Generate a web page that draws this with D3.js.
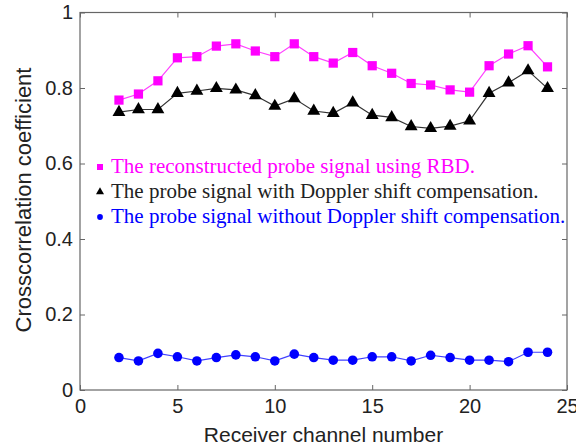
<html>
<head>
<script src="https://d3js.org/d3.v7.min.js"></script>
<style>
    html, body { margin: 0; padding: 0; background: #fff; }
</style>
</head>
<body>
<script>
    // receiver channels and the three curves
    var channels = [2, 3, 4, 5, 6, 7, 8, 9, 10, 11, 12, 13, 14, 15, 16, 17, 18, 19, 20, 21, 22, 23, 24];
    var rbd = [0.768, 0.784, 0.819, 0.880, 0.883, 0.911, 0.917, 0.898, 0.883, 0.917, 0.883, 0.866,
               0.894, 0.859, 0.839, 0.812, 0.808, 0.795, 0.789, 0.859, 0.890, 0.912, 0.856];
    var withComp = [0.736, 0.743, 0.743, 0.786, 0.792, 0.799, 0.795, 0.780, 0.752, 0.772, 0.739, 0.733,
                    0.761, 0.728, 0.722, 0.698, 0.693, 0.699, 0.713, 0.786, 0.814, 0.846, 0.799];
    var withoutComp = [0.086, 0.077, 0.097, 0.088, 0.077, 0.086, 0.093, 0.088, 0.077, 0.095, 0.086, 0.079,
                       0.079, 0.088, 0.088, 0.077, 0.092, 0.086, 0.079, 0.079, 0.075, 0.100, 0.100];
    var xTicks = [0, 5, 10, 15, 20, 25];
    var yTicks = [0, 0.2, 0.4, 0.6, 0.8, 1];
    var legendLabels = ["The reconstructed probe signal using RBD.",
                        "The probe signal with Doppler shift compensation.",
                        "The probe signal without Doppler shift compensation."];

    var width = 576, height = 448;
    var plotL = 80, plotR = 567, plotT = 12.5, plotB = 390;

    var svg = d3.select("body").append("svg")
        .attr("width", width)
        .attr("height", height);

    var x = d3.scaleLinear().domain([0, 25]).range([plotL, plotR]);
    var y = d3.scaleLinear().domain([0, 1]).range([plotB, plotT]);

    // box
    svg.append("rect")
        .attr("x", plotL).attr("y", plotT)
        .attr("width", plotR - plotL).attr("height", plotB - plotT)
        .attr("fill", "none").attr("stroke", "#666").attr("stroke-width", 1.2);

    var fmt = function (d) { return d === 0 || d === 1 ? d : d3.format(".1f")(d); };

    var xAxis = svg.append("g").attr("transform", "translate(0," + plotB + ")")
        .call(d3.axisBottom(x).tickValues(xTicks).tickSize(-5).tickFormat(d3.format("d")));
    var xTop = svg.append("g").attr("transform", "translate(0," + plotT + ")")
        .call(d3.axisTop(x).tickValues(xTicks).tickSize(-5).tickFormat(""));
    var yAxis = svg.append("g").attr("transform", "translate(" + plotL + ",0)")
        .call(d3.axisLeft(y).tickValues(yTicks).tickSize(-5).tickFormat(fmt));
    var yRight = svg.append("g").attr("transform", "translate(" + plotR + ",0)")
        .call(d3.axisRight(y).tickValues(yTicks).tickSize(-5).tickFormat(""));

    [xAxis, xTop, yAxis, yRight].forEach(function (g) {
        g.select(".domain").remove();
        g.selectAll(".tick line").attr("stroke", "#666");
        g.selectAll("text").attr("font-size", 20).attr("fill", "#222")
            .attr("font-family", "'Liberation Sans', Arial, sans-serif");
    });
    xAxis.selectAll(".tick text").attr("y", 9).attr("dy", "0.71em");
    yAxis.selectAll(".tick text").attr("x", -7);

    svg.append("text")
        .attr("x", (plotL + plotR) / 2).attr("y", 442)
        .attr("text-anchor", "middle").attr("font-size", 21).attr("fill", "#222")
        .attr("font-family", "'Liberation Sans', Arial, sans-serif")
        .text("Receiver channel number");

    svg.append("text")
        .attr("transform", "translate(31,200) rotate(-90)")
        .attr("text-anchor", "middle").attr("font-size", 22).attr("fill", "#222")
        .attr("font-family", "'Liberation Sans', Arial, sans-serif")
        .text("Crosscorrelation coefficient");

    var line = d3.line()
        .x(function (d) { return x(d[0]); })
        .y(function (d) { return y(d[1]); });

    function pairs(vals) { return channels.map(function (c, i) { return [c, vals[i]]; }); }

    var series = [
        { vals: rbd, color: "#ff00ff", line: "#ff40ff", shape: d3.symbolSquare, size: 85, lsize: 36 },
        { vals: withComp, color: "#000", line: "#333", shape: d3.symbolTriangle, size: 72, lsize: 28 },
        { vals: withoutComp, color: "#0000ff", line: "#4040ff", shape: d3.symbolCircle, size: 72, lsize: 26 }
    ];

    series.forEach(function (s) {
        var pts = pairs(s.vals);
        svg.append("path").datum(pts)
            .attr("d", line)
            .attr("fill", "none").attr("stroke", s.line).attr("stroke-width", 1.2);
        svg.append("g").selectAll("path").data(pts).enter().append("path")
            .attr("d", d3.symbol().type(s.shape).size(s.size))
            .attr("transform", function (d) { return "translate(" + x(d[0]) + "," + y(d[1]) + ")"; })
            .attr("fill", s.color);
    });

    // legend
    var legend = svg.append("g");
    series.forEach(function (s, i) {
        var ly = 167 + i * 25;
        legend.append("path")
            .attr("d", d3.symbol().type(s.shape).size(s.lsize))
            .attr("transform", "translate(100," + ly + ")")
            .attr("fill", s.color);
        legend.append("text")
            .attr("x", 111).attr("y", ly + 6)
            .attr("font-family", "'Liberation Serif', 'Times New Roman', serif")
            .attr("font-size", 21)
            .attr("fill", s.color === "#000" ? "#222" : s.color)
            .text(legendLabels[i]);
    });
</script>
</body>
</html>
